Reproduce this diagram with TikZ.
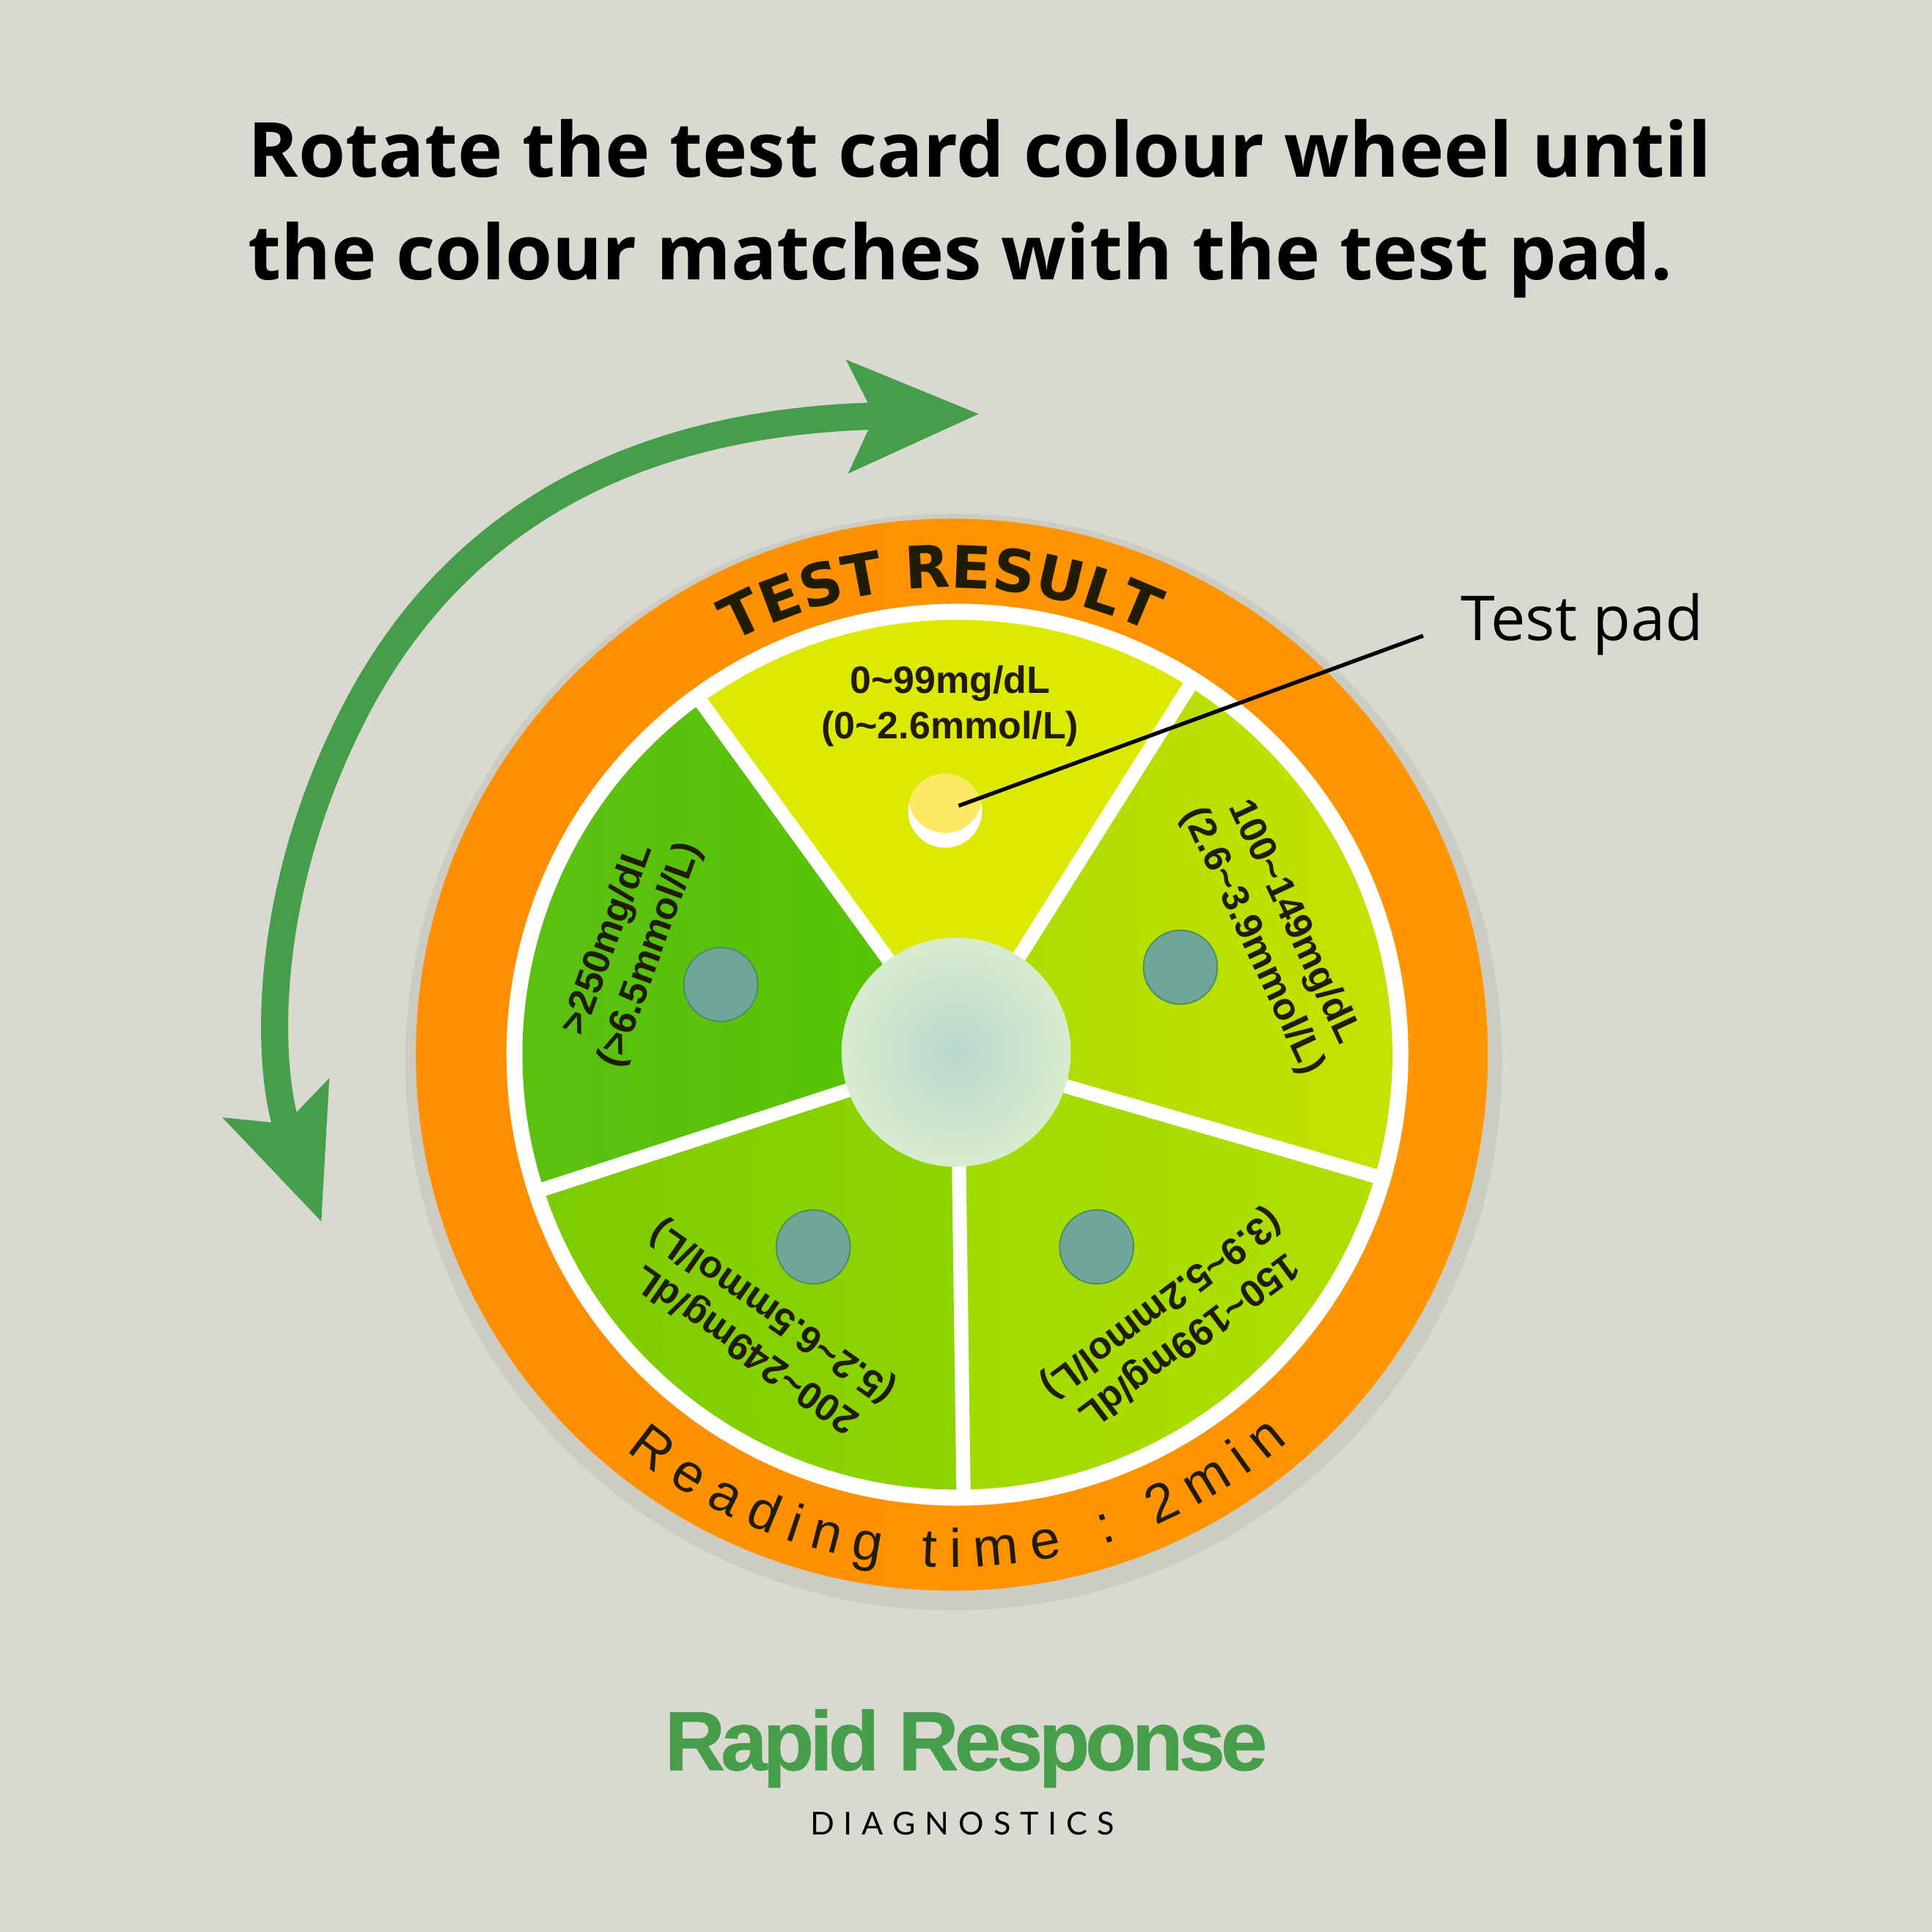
\documentclass[tikz,border=0pt]{standalone}
\usepackage{fontspec}
\setmainfont{Open Sans}
\newfontfamily\dosefont{Liberation Sans}
\newfontfamily\logofont[LetterSpace=-5.5,BoldFeatures={FakeBold=0.5}]{Liberation Sans}
\newfontfamily\brandfont[LetterSpace=30]{Lato}
\newfontfamily\headfont{DejaVu Sans}
\usetikzlibrary{arrows.meta,decorations.text}
\definecolor{page_gray}{RGB}{217,217,209}
\definecolor{shadow_gray}{RGB}{204,204,196}
\definecolor{card_orange}{RGB}{255,150,0}
\definecolor{card_deep}{RGB}{255,142,0}
\definecolor{print_brown}{RGB}{32,28,0}
\definecolor{arrow_green}{RGB}{70,158,74}
\definecolor{hole_teal}{RGB}{112,166,152}
\definecolor{hole_edge}{RGB}{70,140,100}
\definecolor{pad_yellow}{RGB}{255,232,100}
\definecolor{hub_in}{RGB}{184,216,205}
\definecolor{hub_out}{RGB}{216,235,205}
\definecolor{top_yellow}{RGB}{221,234,0}
\definecolor{rt_a}{RGB}{170,218,0}
\definecolor{rt_b}{RGB}{200,228,0}
\definecolor{br_a}{RGB}{160,218,0}
\definecolor{br_b}{RGB}{176,223,0}
\definecolor{bl_a}{RGB}{124,203,0}
\definecolor{bl_b}{RGB}{143,212,0}
\definecolor{lf_a}{RGB}{92,191,20}
\definecolor{lf_b}{RGB}{85,197,0}
\pgfdeclareradialshading{wheelshadow}{\pgfpoint{0bp}{0bp}}{color(0bp)=(shadow_gray); color(46bp)=(shadow_gray); color(50bp)=(page_gray)}

\begin{document}
\begin{tikzpicture}
    \tikzstyle{dose}=[font=\dosefont\bfseries\fontsize{8.8}{10.4}\selectfont, align=center, text=print_brown, inner sep=0pt]
    \tikzstyle{hole}=[circle, minimum size=0.6cm, inner sep=0pt, fill=hole_teal, draw=hole_edge, line width=0.3pt]
    \tikzstyle{spoke}=[white, line width=0.115cm]
    \tikzstyle{sweep}=[arrow_green, line width=0.22cm, {Stealth[length=1.05cm,width=0.88cm,inset=0.2cm]}-{Stealth[length=1.05cm,width=0.88cm,inset=0.2cm]}]

    \fill[page_gray] (0,0) rectangle (15.68,15.68);
    \useasboundingbox (0,0) rectangle (15.68,15.68);

    \node[anchor=north west, inner sep=0pt, align=left, font=\bfseries\fontsize{17.55}{23.8}\selectfont] (title) at (2.01,14.72)
        {Rotate the test card colour wheel until\\the colour matches with the test pad.};

    % wheel
    \shade[shading=wheelshadow] (7.74,7.06) circle (4.45);
    \shade[left color=card_deep, right color=card_orange] (7.725,7.12) circle (4.35);
    \fill[white] (7.77,7.12) circle (3.66);
    \begin{scope}[shift={(7.77,7.12)}]
        \foreach \a/\b/\cola/\colb in {57.8/126/top_yellow/top_yellow, 343.8/417.8/rt_a/rt_b, 270.8/343.8/br_a/br_b, 198/270.8/bl_a/bl_b, 126/198/lf_a/lf_b}
            \shade[left color=\cola, right color=\colb] (0,0) -- (\a:3.53) arc (\a:\b:3.53) -- cycle;
        \foreach \a in {57.8,126,198,270.8,343.8}
            \draw[spoke] (0,0) -- (\a:3.6);
    \end{scope}

    \path[decorate, decoration={text along path, text align={fit to path},
        text={|\headfont\bfseries\fontsize{13.5}{13.5}\selectfont\color{print_brown}|TEST RESULT}}]
        (7.725,7.12) ++(118:3.79) arc (118:65:3.79);
    \path[decorate, decoration={text along path, text align={fit to path},
        text={|\dosefont\fontsize{12.5}{12.5}\selectfont\color{print_brown}|Reading time : 2min}}]
        (7.725,7.12) ++(230.5:4.16) arc (230.5:311:4.16);

    \node[dose] (dose0) at (7.71,9.95) {0\textasciitilde99mg/dL\\(0\textasciitilde2.6mmol/L)};
    \node[dose, rotate=-65] (dose1) at (10.33,8.12) {100\textasciitilde149mg/dL\\(2.6\textasciitilde3.9mmol/L)};
    \node[dose, rotate=217] (dose2) at (9.53,4.96) {150\textasciitilde199mg/dL\\(3.9\textasciitilde5.2mmol/L)};
    \node[dose, rotate=145] (dose3) at (6.17,4.89) {200\textasciitilde249mg/dL\\(5.2\textasciitilde6.5mmol/L)};
    \node[dose, rotate=70] (dose4) at (5.11,7.99) {>250mg/dL\\(>6.5mmol/L)};

    \node[hole] (hole1) at (9.58,7.83) {};
    \node[hole] (hole2) at (8.90,5.56) {};
    \node[hole] (hole3) at (6.60,5.56) {};
    \node[hole] (hole4) at (5.85,7.69) {};

    \node[circle, minimum size=0.6cm, inner sep=0pt, fill=white] (pad) at (7.67,9.10) {};
    \begin{scope}
        \clip (7.67,9.10) circle (0.3);
        \fill[pad_yellow] (7.67,9.22) circle (0.3);
    \end{scope}

    \node[circle, minimum size=1.86cm, inner sep=0pt, shade, inner color=hub_in, outer color=hub_out] (hub) at (7.76,7.14) {};

    % sweep arrow
    \coordinate (sweep_low) at (2.61,5.76);
    \coordinate (sweep_mid) at (2.92,9.98);
    \coordinate (sweep_top) at (7.95,12.32);
    \draw[sweep] (sweep_low) .. controls (2.18,6.93) and (2.07,8.39) .. (sweep_mid)
        .. controls (3.82,11.65) and (5.40,12.27) .. (sweep_top);

    % callout
    \node[anchor=west, inner xsep=0.3cm, inner ysep=0pt, font=\fontsize{14.3}{16}\selectfont] (padlabel) at (11.55,10.61) {Test pad};
    \coordinate (lead_start) at ([yshift=-0.09cm]padlabel.west);
    \coordinate (lead_end) at ([xshift=0.11cm,yshift=0.04cm]pad.center);
    \draw[black, line width=0.9pt] (lead_start) -- (lead_end);

    % logo
    \node[inner sep=0pt, text=arrow_green, font=\logofont\bfseries\fontsize{19.4}{20}\selectfont] (logo) at (7.84,1.49) {Rapid Response};
    \node[inner sep=0pt, font=\brandfont\fontsize{7.3}{8}\selectfont] (brand) at (7.81,0.88) {DIAGNOSTICS};
\end{tikzpicture}
\end{document}
